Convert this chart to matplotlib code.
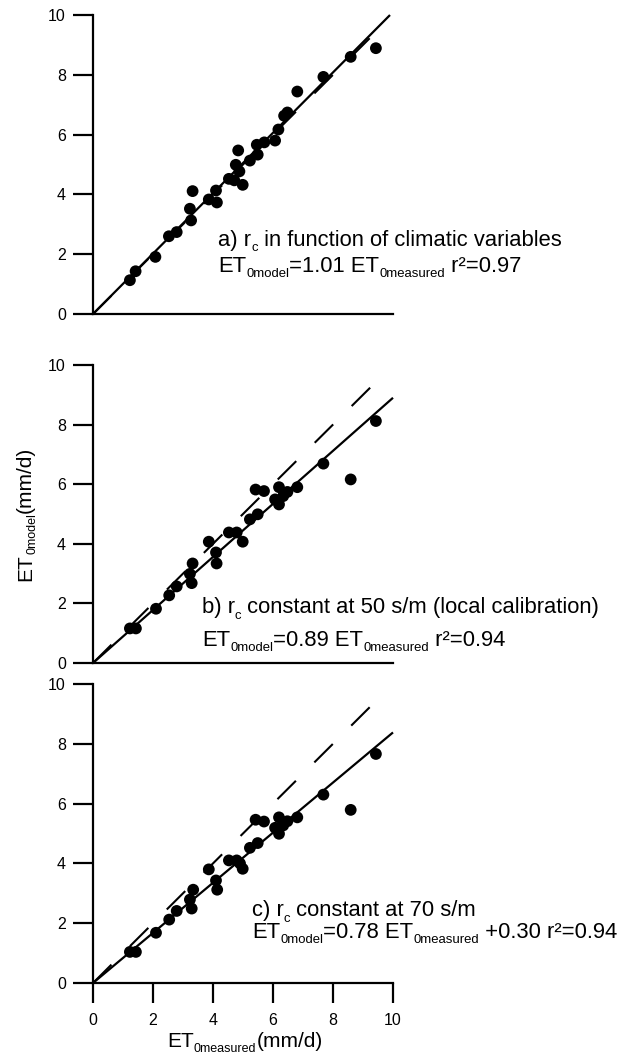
import matplotlib
matplotlib.use('Agg')
import matplotlib.pyplot as plt
from matplotlib.transforms import IdentityTransform

plt.rcParams['font.family'] = ['Liberation Sans', 'DejaVu Sans']

# ---- data (ET0 measured vs ET0 model, mm/d) ----
xa = [1.23, 1.42, 2.08, 2.53, 2.79, 3.27, 3.23, 3.32, 3.86, 4.10, 4.13, 4.53, 4.71, 4.76, 4.88,
      4.99, 4.84, 5.23, 5.49, 5.46, 5.71, 6.07, 6.18, 6.37, 6.48, 6.81, 7.68, 8.59, 9.43]
ya = [1.13, 1.43, 1.91, 2.60, 2.74, 3.13, 3.52, 4.11, 3.83, 4.13, 3.73, 4.52, 4.47, 4.99, 4.77,
      4.32, 5.47, 5.13, 5.33, 5.66, 5.74, 5.80, 6.17, 6.63, 6.74, 7.44, 7.93, 8.60, 8.89]

xb = [1.23, 1.43, 2.10, 2.54, 2.79, 3.23, 3.29, 3.32, 3.86, 4.10, 4.12, 4.53, 4.79, 4.99,
      5.23, 5.49, 5.42, 5.70, 6.07, 6.20, 6.20, 6.34, 6.48, 6.81, 7.68, 8.59, 9.43]
yb = [1.16, 1.16, 1.82, 2.27, 2.57, 2.99, 2.68, 3.34, 4.07, 3.71, 3.34, 4.38, 4.38, 4.07,
      4.82, 4.99, 5.82, 5.77, 5.49, 5.90, 5.32, 5.60, 5.74, 5.90, 6.69, 6.16, 8.12]

xc = [1.23, 1.43, 2.10, 2.54, 2.79, 3.29, 3.23, 3.34, 3.86, 4.10, 4.14, 4.53, 4.79, 4.90,
      4.99, 5.23, 5.49, 5.42, 5.70, 6.07, 6.20, 6.20, 6.34, 6.48, 6.81, 7.68, 8.59, 9.43]
yc = [1.04, 1.04, 1.68, 2.12, 2.41, 2.49, 2.79, 3.12, 3.80, 3.43, 3.12, 4.10, 4.10, 4.00,
      3.82, 4.52, 4.68, 5.46, 5.40, 5.19, 5.54, 4.99, 5.27, 5.41, 5.54, 6.30, 5.79, 7.66]

# drawn regression lines (through origin as drawn) and 1:1 line extent
fit_slopes = [1.01, 0.89, 0.838]
fit_x_end = [9.9, 10.0, 10.0]
one_to_one_end = 9.35

# annotation texts as (segment, is_subscript)
labels_line1 = [[('a) r', False), ('c', True), (' in function of climatic variables', False)],
                [('b) r', False), ('c', True), (' constant at 50 s/m (local calibration)', False)],
                [('c) r', False), ('c', True), (' constant at 70 s/m', False)]]
labels_line2 = [[('ET', False), ('0model', True), ('=1.01 ET', False), ('0measured', True),
                 (' r²=0.97', False)],
                [('ET', False), ('0model', True), ('=0.89 ET', False), ('0measured', True),
                 (' r²=0.94', False)],
                [('ET', False), ('0model', True), ('=0.78 ET', False), ('0measured', True),
                 (' +0.30 r²=0.94', False)]]
ylabel_segs = [('ET', False), ('0model', True), ('(mm/d)', False)]
xlabel_segs = [('ET', False), ('0measured', True), ('(mm/d)', False)]
ticks = [0, 2, 4, 6, 8, 10]

W, H = 625, 1058
DPI = 100
fig = plt.figure(figsize=(W / DPI, H / DPI), dpi=DPI)
renderer = fig.canvas.get_renderer()

SUB_SCALE = 0.6
SUB_DROP = 0.24
ANN_FS = 15.8


def rich_text(X, Y, segs, fs, rotation=0):
    """Draw segments starting at display point (X, Y) on the baseline; returns texts, length."""
    texts = []
    pos = 0.0
    for s, sub in segs:
        f = fs * SUB_SCALE if sub else fs
        drop = SUB_DROP * fs * DPI / 72 if sub else 0.0
        if rotation == 0:
            px, py = X + pos, Y - drop
        else:
            px, py = X + drop, Y + pos
        t = fig.text(px, py, s, fontsize=f, ha='left', va='baseline', rotation=rotation,
                     rotation_mode='anchor', transform=IdentityTransform())
        bb = t.get_window_extent(renderer)
        pos += (bb.width if rotation == 0 else bb.height)
        texts.append(t)
    return texts, pos


boxes = [(15, 314), (365, 663), (684, 983)]
left_px, right_px = 93, 393
text_pos = [((4.17, 2.27), (4.17, 1.40)),
            ((3.63, 1.67), (3.63, 0.57)),
            ((5.30, 2.23), (5.30, 1.50))]
datasets = [(xa, ya), (xb, yb), (xc, yc)]

for i, ((top, bot), (xs, ys)) in enumerate(zip(boxes, datasets)):
    ax = fig.add_axes([left_px / W, 1 - bot / H, (right_px - left_px) / W, (bot - top) / H])
    ax.set_xlim(0, 10)
    ax.set_ylim(0, 10)
    for s in ['top', 'right']:
        ax.spines[s].set_visible(False)
    for s in ['left', 'bottom']:
        ax.spines[s].set_linewidth(1.6)
    ax.set_yticks(ticks)
    ax.set_yticklabels([str(t) for t in ticks])
    ax.tick_params(axis='y', direction='out', length=14.5, width=1.6, pad=5, labelsize=11.5)
    if i < 2:
        ax.tick_params(axis='x', bottom=False, labelbottom=False)
    else:
        ax.set_xticks(ticks)
        ax.set_xticklabels([str(t) for t in ticks])
        ax.tick_params(axis='x', direction='out', length=14.5, width=1.6, pad=7, labelsize=11.5)

    # 1:1 dashed line
    ln, = ax.plot([0, one_to_one_end], [0, one_to_one_end], color='black', lw=1.5, clip_on=False)
    ln.set_dashes((12.5, 12.5))
    # regression line
    ax.plot([0, fit_x_end[i]], [0, fit_slopes[i] * fit_x_end[i]], color='black', lw=1.6,
            clip_on=False, solid_capstyle='butt')
    ax.scatter(xs, ys, s=72, color='black', edgecolors='none', zorder=3, clip_on=False)

    (x1, y1), (x2, y2) = text_pos[i]
    X1, Y1 = ax.transData.transform((x1, y1))
    X2, Y2 = ax.transData.transform((x2, y2))
    rich_text(X1, Y1, labels_line1[i], ANN_FS)
    rich_text(X2, Y2, labels_line2[i], ANN_FS)

# axis labels (centred)
texts, length = rich_text(0, 0, xlabel_segs, 15)
cx, cy = 245, H - 1047
for t in texts:
    x0, y0 = t.get_position()
    t.set_position((x0 + cx - length / 2, y0 + cy))

texts, length = rich_text(0, 0, ylabel_segs, 15, rotation=90)
cx, cy = 31, H - 514
for t in texts:
    x0, y0 = t.get_position()
    t.set_position((x0 + cx, y0 + cy - length / 2))

fig.savefig('out.png', dpi=DPI)
